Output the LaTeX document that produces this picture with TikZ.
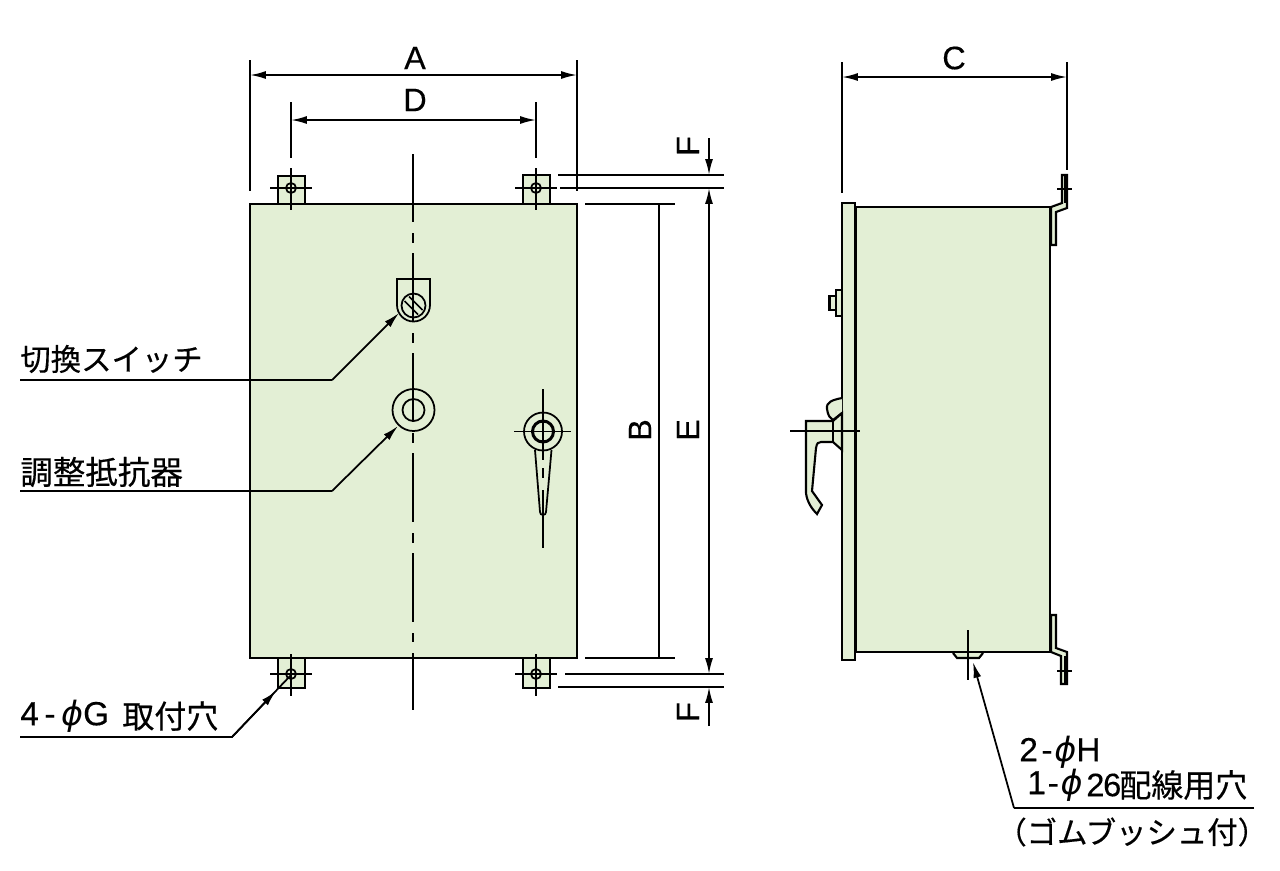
\documentclass[tikz,border=0pt]{standalone}
\usepackage{fontspec}
\setmainfont[FakeBold=0.3]{Liberation Sans}
\newfontfamily\cjk[FakeBold=0.4]{Noto Sans CJK JP}
\newfontfamily\phifont{DejaVu Sans}
\usetikzlibrary{arrows.meta}

\definecolor{panel}{RGB}{227,239,213}
\newcommand{\phisym}{{\phifont\itshape ϕ}}

\tikzset{
    outline/.style={line width=1.2pt, fill=panel},
    thin line/.style={line width=1pt},
    dim/.style={line width=1pt, {Latex[length=9pt,width=4.5pt]}-{Latex[length=9pt,width=4.5pt]}},
    single/.style={line width=1pt, -{Latex[length=9pt,width=4.5pt]}},
    letter/.style={inner sep=0pt, font=\fontsize{18.5}{18.5}\selectfont},
    callout/.style={inner sep=0pt, anchor=west, font=\fontsize{18.2}{20}\selectfont\cjk},
    latin/.style={inner sep=0pt, anchor=west, font=\fontsize{19}{20}\selectfont},
}

\begin{document}
\begin{tikzpicture}[x=0.02cm, y=-0.02cm]
        \useasboundingbox (0,0) rectangle (1280,870);

        % Front view, mounting tabs
        \foreach \tx/\ty/\th in {278/176/28, 523/175/29, 278/658/30, 523/658/30}
            {
                \draw[outline] (\tx,\ty) rectangle (\tx+27,\ty+\th);
            }
        \draw[outline] (250,204) rectangle (577,658);
        \foreach \hx/\hy in {291/188, 536/188, 291/674, 536/674}
            {
                \draw[thin line] (\hx,\hy) circle (5);
                \draw[thin line] (\hx-21,\hy) -- (\hx+21,\hy);
                \draw[thin line] (\hx,\hy-20) -- (\hx,\hy+22);
            }

        % Centre line
        \draw[thin line] (413,154) -- (413,222);
        \foreach \i in {0,1,2,3}
            {
                \draw[thin line] (413,233+100*\i) -- (413,243+100*\i);
                \draw[thin line] (413,253+100*\i) -- (413,322+100*\i);
            }
        \draw[thin line] (413,633) -- (413,642);
        \draw[thin line] (413,653) -- (413,710);

        % Selector switch
        \draw[thin line] (397,279) -- (430,279) -- (430,305) arc (0:180:16.5) -- cycle;
        \draw[thin line] (413.5,305.5) circle (12);
        \draw[thin line] (404.5,301) -- (418,314.5);
        \draw[thin line] (409,296.5) -- (422.5,310);

        % Adjuster
        \draw[thin line] (413.5,410) circle (21);
        \draw[thin line] (413.5,410) circle (11);

        % Front handle
        \draw[thin line] (535,450) -- (540,512) arc (180:0:3) -- (551.5,450);
        \draw[thin line] (543,431.5) circle (19);
        \draw[line width=1.7pt] (543,431.5) circle (10.5);
        \draw[thin line] (514,431.5) -- (571,431.5);
        \draw[thin line] (543,389) -- (543,460);
        \draw[thin line] (543,468) -- (543,478);
        \draw[thin line] (543,490) -- (543,548);

        % Side view
        \draw[outline] (856,207) rectangle (1050,652);
        \draw[outline] (842,203) rectangle (855,660);
        \draw[outline] (1051,245) -- (1056,245) -- (1056,212) -- (1067,208) -- (1067,175)
            -- (1062,175) -- (1062,203) -- (1051,207) -- cycle;
        \draw[outline] (1051,615) -- (1056,615) -- (1056,648) -- (1067,652) -- (1067,684)
            -- (1061,684) -- (1061,656) -- (1051,652) -- cycle;
        \draw[thin line] (1057,189) -- (1072,189);
        \draw[thin line] (1065,175) -- (1065,203);
        \draw[thin line] (1057,671) -- (1072,671);
        \draw[thin line] (1065,656) -- (1065,684);
        \draw[outline] (953,653) -- (957,658) -- (979,658) -- (983,653);
        \draw[thin line] (968,630) -- (968,680);

        % Side view, switch and handle
        \draw[outline] (836,290) rectangle (842,316);
        \draw[outline] (829.5,296) rectangle (836,310);
        \draw[outline] (842,398) .. controls (832,400) and (826,402) .. (827,409)
            .. controls (828,416) and (830,418) .. (833,420) -- (842,413);
        \draw[outline] (833,421) -- (806,421) -- (806,493)
            .. controls (807,502) and (812,509) .. (817,514) -- (822,505) -- (812,491)
            -- (816,448) .. controls (817,443) and (818,442) .. (821,442) -- (833,442)
            -- (842,450) -- (842,413) -- (833,421) -- cycle;
        \draw[thin line] (833,421) -- (833,442);
        \draw[thin line] (790,431) -- (860,431);

        % Dimensions
        \draw[thin line] (250,60) -- (250,191);
        \draw[thin line] (577,60) -- (577,191);
        \draw[dim] (250,75) -- (577,75);
        \draw[thin line] (291,102) -- (291,158);
        \draw[thin line] (536,102) -- (536,158);
        \draw[dim] (291,120) -- (536,120);
        \draw[thin line] (842,62) -- (842,193);
        \draw[thin line] (1067,62) -- (1067,170);
        \draw[dim] (842,77) -- (1067,77);
        \draw[thin line] (585,204) -- (675,204);
        \draw[thin line] (585,658) -- (675,658);
        \draw[thin line] (659,204) -- (659,658);
        \draw[thin line] (558,175) -- (724,175);
        \draw[thin line] (560,188) -- (724,188);
        \draw[thin line] (565,674) -- (724,674);
        \draw[thin line] (558,687) -- (724,687);
        \draw[dim] (709,188) -- (709,674);
        \draw[single] (709,138) -- (709,175);
        \draw[single] (709,726) -- (709,687);

        \node[letter] (dimA) at (415,58) {A};
        \node[letter] (dimD) at (415,100) {D};
        \node[letter] (dimC) at (954,58) {C};
        \node[letter, rotate=90] (dimB) at (640,430) {B};
        \node[letter, rotate=90] (dimE) at (688,430) {E};
        \node[letter, rotate=90] (dimFtop) at (688,146) {F};
        \node[letter, rotate=90] (dimFbot) at (688,712) {F};

        % Callouts
        \node[callout, font=\fontsize{17.3}{20}\selectfont\cjk] (switch) at (20,359) {切換スイッチ};
        \node[callout, font=\fontsize{18.5}{20}\selectfont\cjk] (adjust) at (20,472) {調整抵抗器};
        \node[latin] (mount) at (20,716) {4\,-\,\phisym G};
        \node[callout] (mounttext) at (122,716) {取付穴};
        \node[latin] (holeA) at (1019,752) {2\kern2pt-\kern1pt\phisym H};
        \node[latin] (holeB) at (1027,785) {1\kern1pt-\kern1pt\phisym};
        \node[callout] (holeD) at (1086,785) {{\fontsize{18.5}{20}\selectfont\rmfamily\addfontfeature{LetterSpace=-4}26}};
        \node[callout] (holeE) at (1119,785) {配線用穴};
        \node[callout, font=\fontsize{17.3}{20}\selectfont\cjk] (holeC) at (996,832) {（ゴムブッシュ付）};

        \coordinate (switchbend) at (332,380);
        \coordinate (adjustbend) at (332,491);
        \coordinate (mountbend) at (232,737);
        \coordinate (holebend) at (1014,808);

        \draw[thin line] (20,380) -- (switchbend);
        \draw[single] (switchbend) -- (399,313);
        \draw[thin line] (20,491) -- (adjustbend);
        \draw[single] (adjustbend) -- (398,426);
        \draw[thin line] (20,737) -- (mountbend) -- (291,675);
        \draw[single] (mountbend) -- (276,691);
        \draw[thin line] (1254,808) -- (holebend);
        \draw[single] (holebend) -- (973,662);

    \end{tikzpicture}
\end{document}
